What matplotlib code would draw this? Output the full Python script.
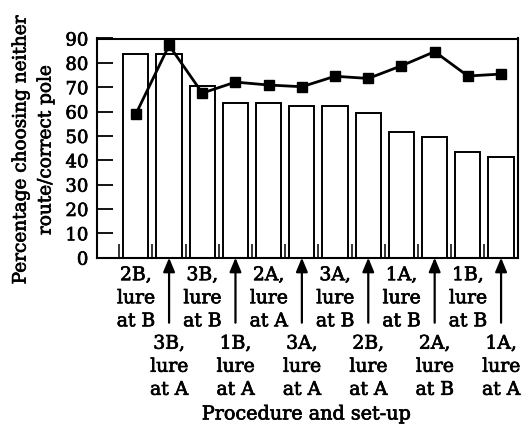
import matplotlib
matplotlib.use("Agg")
import matplotlib.pyplot as plt
import matplotlib.patheffects as pe
import numpy as np

categories = ["2B,\nlure\nat B", "3B,\nlure\nat A", "3B,\nlure\nat B", "1B,\nlure\nat A",
              "2A,\nlure\nat A", "3A,\nlure\nat A", "3A,\nlure\nat B", "2B,\nlure\nat A",
              "1A,\nlure\nat B", "2A,\nlure\nat B", "1B,\nlure\nat B", "1A,\nlure\nat A"]
bar_values = [83.5, 83.5, 70.5, 63.5, 63.5, 62.3, 62.3, 59.4, 51.6, 49.5, 43.5, 41.3]
line_values = [59.0, 87.2, 67.6, 72.1, 70.9, 70.2, 74.5, 73.6, 78.8, 84.6, 74.6, 75.4]
y_ticks = [0, 10, 20, 30, 40, 50, 60, 70, 80, 90]

plt.rcParams['font.family'] = ['DejaVu Serif']
plt.rcParams['font.size'] = 13
heavy = [pe.withStroke(linewidth=0.5, foreground='black')]

fig = plt.figure(figsize=(5.3, 4.29), dpi=100)
W, H = 530, 429
L, R, T, B = 96.7, 518, 38.5, 257.7
ax = fig.add_axes([L / W, 1 - B / H, (R - L) / W, (B - T) / H])

x = np.arange(len(categories))
ax.bar(x, bar_values, width=0.76, color='white', edgecolor='black', linewidth=1.4, zorder=2)
ax.plot(x, line_values, color='black', linewidth=2.0, marker='s', markersize=7.5,
        zorder=4, clip_on=False)

ax.set_xlim(-1.18, 11.51)
ax.set_ylim(0, 90)
ax.set_yticks(y_ticks)
ax.tick_params(axis='y', direction='in', length=11.5, width=1.3, pad=6, labelsize=13)
for t in ax.get_yticklabels():
    t.set_path_effects(heavy)
ax.set_xticks(x - 0.5)
ax.set_xticklabels([])
ax.tick_params(axis='x', direction='in', length=10, width=1.1)
for s in ax.spines.values():
    s.set_linewidth(1.5)

px = 72.0 / 100.0  # points per pixel
ls = 1.36
fs = 13.5
for i, lab in enumerate(categories):
    if i % 2 == 0:
        ax.annotate(lab, xy=(i, 0), xycoords=('data', 'axes fraction'),
                    xytext=(0, -8.5 * px), textcoords='offset points',
                    ha='center', va='top', multialignment='center',
                    linespacing=ls, fontsize=fs, path_effects=heavy)
    else:
        ax.annotate(lab, xy=(i, 0), xycoords=('data', 'axes fraction'),
                    xytext=(0, -77 * px), textcoords='offset points',
                    ha='center', va='top', multialignment='center',
                    linespacing=ls, fontsize=fs, path_effects=heavy)
        ax.annotate('', xy=(i, 0), xycoords=('data', 'axes fraction'),
                    xytext=(0, -65 * px), textcoords='offset points',
                    arrowprops=dict(arrowstyle='-|>,head_length=0.6,head_width=0.25',
                                    mutation_scale=14, lw=1.6, color='black',
                                    shrinkA=0, shrinkB=0))

ax.set_ylabel("Percentage choosing neither\nroute/correct pole", fontsize=13.3,
              linespacing=1.5, path_effects=heavy)
ax.yaxis.set_label_coords(-0.1, 0.49)
ax.set_xlabel("Procedure and set-up", fontsize=13.8, path_effects=heavy)
ax.xaxis.set_label_coords(0.4985, -0.674)

fig.savefig("out.png", dpi=100)
